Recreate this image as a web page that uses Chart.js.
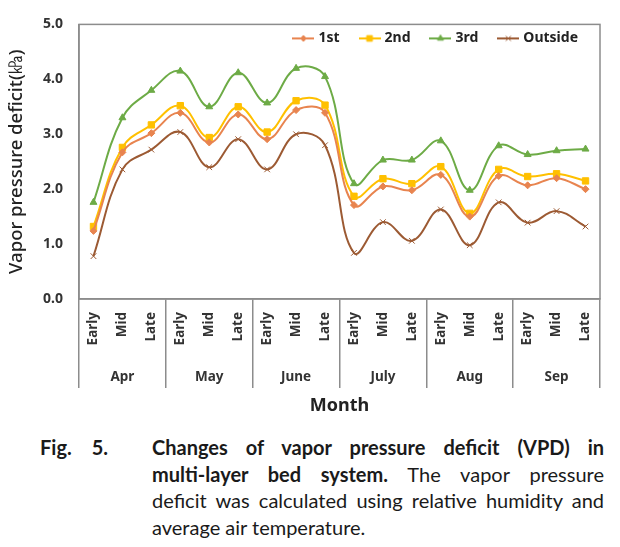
<!DOCTYPE html>
<html>
<head>
<meta charset="utf-8">
<script src="https://cdn.jsdelivr.net/npm/chart.js@4.4.0/dist/chart.umd.min.js"></script>
<style>
  body { margin: 0; background: #fff; }
  #wrap { position: relative; width: 620px; height: 547px; }
  #cap {
    position: absolute; left: 152px; top: 434px; width: 452px;
    font-family: Lato, "Open Sans", sans-serif; font-size: 20px; line-height: 26.5px; color: #1a1a1a;
  }
  #cap .l { text-align: justify; text-align-last: justify; }
  #cap .l.last { text-align-last: left; }
  #cap .fig {
    position: absolute; left: -112px; width: 68px; font-weight: bold;
    text-align: justify; text-align-last: justify;
  }
</style>
</head>
<body>
<div id="wrap">
  <canvas id="vpdChart" width="620" height="425"></canvas>
  <div id="cap">
    <div class="l"><span class="fig">Fig. 5.</span><b>Changes of vapor pressure deficit (VPD) in</b></div>
    <div class="l"><b>multi-layer bed system.</b> The vapor pressure</div>
    <div class="l">deficit was calculated using relative humidity and</div>
    <div class="l last">average air temperature.</div>
  </div>
</div>
<script>
// values (kPa)
const periods = ['Early', 'Mid', 'Late', 'Early', 'Mid', 'Late', 'Early', 'Mid', 'Late',
                 'Early', 'Mid', 'Late', 'Early', 'Mid', 'Late', 'Early', 'Mid', 'Late'];
const months = ['Apr', 'May', 'June', 'July', 'Aug', 'Sep'];
const yTicks = [0, 1, 2, 3, 4, 5];

const first = [1.24, 2.67, 3.02, 3.39, 2.85, 3.36, 2.91, 3.44, 3.39, 1.71, 2.05, 1.98, 2.26, 1.50, 2.24, 2.07, 2.20, 2.00];
const second = [1.32, 2.76, 3.17, 3.52, 2.94, 3.50, 3.04, 3.61, 3.53, 1.87, 2.19, 2.10, 2.41, 1.56, 2.36, 2.23, 2.28, 2.15];
const third = [1.76, 3.30, 3.80, 4.15, 3.50, 4.12, 3.57, 4.20, 4.05, 2.10, 2.53, 2.53, 2.88, 1.98, 2.79, 2.63, 2.70, 2.73];
const outside = [0.78, 2.36, 2.72, 3.04, 2.40, 2.91, 2.36, 3.00, 2.80, 0.84, 1.40, 1.06, 1.63, 0.98, 1.76, 1.39, 1.60, 1.32];

const FONT = "'Noto Sans', 'DejaVu Sans', sans-serif";
const AXIS_GRAY = '#8c8c8c';

// little "line + marker" icon for the legend, like the excel legend
function legendIcon(color, style, radius) {
    const c = document.createElement('canvas');
    c.width = 22; c.height = 10;
    const g = c.getContext('2d');
    g.strokeStyle = color; g.fillStyle = color; g.lineWidth = 2;
    g.beginPath(); g.moveTo(0, 5); g.lineTo(22, 5); g.stroke();
    g.lineWidth = 1;
    Chart.helpers.drawPoint(g, { pointStyle: style, radius: radius, borderWidth: 1 }, 11, 5);
    return c;
}

function series(label, data, color, style, radius) {
    return {
        label: label,
        data: data,
        borderColor: color,
        backgroundColor: color,
        borderWidth: 2,
        tension: 0.4,
        pointStyle: style,
        pointRadius: radius,
        pointBorderWidth: 1,
        icon: legendIcon(color, style, radius - 0.5)
    };
}

// frame around the plot area
const plotFrame = {
    id: 'plotFrame',
    beforeDatasetsDraw(chart) {
        const a = chart.chartArea, ctx = chart.ctx;
        ctx.save();
        ctx.strokeStyle = AXIS_GRAY;
        ctx.lineWidth = 1.5;
        ctx.strokeRect(a.left, a.top, a.right - a.left, a.bottom - a.top);
        ctx.restore();
    }
};

// keep the legend out of the layout and put it inside the plot, top right
const legendInPlot = {
    id: 'legendInPlot',
    beforeLayout(chart) {
        const lg = chart.legend;
        if (lg && !lg.$inPlot) {
            const fit = lg.fit;
            lg.fit = function () { fit.call(this); this.$h = this.height; this.height = 0; };
            lg.$inPlot = true;
        }
    },
    afterLayout(chart) {
        const lg = chart.legend, a = chart.chartArea;
        lg.top = a.top - 15;
        lg.height = lg.$h;
        lg.bottom = lg.top + lg.$h;
        lg.left = a.left;
        lg.right = a.right;
        lg.width = lg.right - lg.left;
    }
};

const ctx = document.getElementById('vpdChart').getContext('2d');
const chart = new Chart(ctx, {
    type: 'line',
    data: {
        labels: periods,
        datasets: [
            series('1st', first, '#e8844f', 'rectRot', 3.5),
            series('2nd', second, '#ffc000', 'rect', 4.5),
            series('3rd', third, '#6dab46', 'triangle', 4),
            series('Outside', outside, '#9c5a33', 'crossRot', 4)
        ]
    },
    options: {
        responsive: false,
        animation: false,
        devicePixelRatio: 1,
        layout: { padding: { top: 16, right: 20, left: 0, bottom: 0 } },
        plugins: {
            tooltip: { enabled: false },
            legend: {
                position: 'top',
                align: 'end',
                labels: {
                    usePointStyle: true,
                    pointStyleWidth: 16,
                    padding: 22,
                    color: '#222',
                    font: { family: FONT, size: 14, weight: 'bold' },
                    generateLabels(chart) {
                        const items = Chart.defaults.plugins.legend.labels.generateLabels(chart);
                        items.forEach(it => { it.pointStyle = chart.data.datasets[it.datasetIndex].icon; });
                        return items;
                    }
                }
            }
        },
        scales: {
            x: {
                type: 'category',
                position: 'bottom',
                weight: 0,
                offset: true,
                afterFit: s => { s.height = 56; },
                border: { display: true, color: AXIS_GRAY, width: 1.5 },
                grid: {
                    offset: true,
                    drawOnChartArea: false,
                    drawTicks: true,
                    tickLength: 56,
                    lineWidth: 1.5,
                    color: c => (c.index === undefined || c.index % 3 === 0) ? AXIS_GRAY : 'rgba(0,0,0,0)'
                },
                ticks: {
                    autoSkip: false,
                    minRotation: 90,
                    maxRotation: 90,
                    padding: -43,
                    color: '#333',
                    font: { family: FONT, size: 13.5, weight: 'bold' }
                }
            },
            x2: {
                type: 'category',
                position: 'bottom',
                weight: 1,
                labels: months,
                offset: true,
                afterFit: s => { s.height = 70; },
                border: { display: false },
                grid: {
                    offset: true,
                    drawOnChartArea: false,
                    drawTicks: true,
                    tickLength: 33,
                    lineWidth: 1.5,
                    color: AXIS_GRAY
                },
                ticks: {
                    padding: -19,
                    color: '#333',
                    font: { family: FONT, size: 13.5, weight: 'bold' }
                },
                title: {
                    display: true,
                    text: 'Month',
                    color: '#222',
                    padding: { top: 0, bottom: 8 },
                    font: { family: FONT, size: 18, weight: 'bold' }
                }
            },
            y: {
                min: yTicks[0],
                max: yTicks[yTicks.length - 1],
                afterFit: s => { s.width = 79; },
                afterBuildTicks: s => { s.ticks = yTicks.map(v => ({ value: v })); },
                border: { display: true, color: AXIS_GRAY, width: 1.5 },
                grid: { display: false, drawTicks: false },
                ticks: {
                    padding: 16,
                    color: '#333',
                    font: { family: FONT, size: 14, weight: 'bold' },
                    callback: v => Number(v).toFixed(1)
                },
                title: {
                    display: true,
                    text: 'Vapor pressure deficit(㎪)',
                    color: '#222',
                    padding: { top: 6, bottom: 0 },
                    font: { family: FONT, size: 18.5, weight: '500' }
                }
            }
        }
    },
    plugins: [plotFrame, legendInPlot]
});
</script>
</body>
</html>
